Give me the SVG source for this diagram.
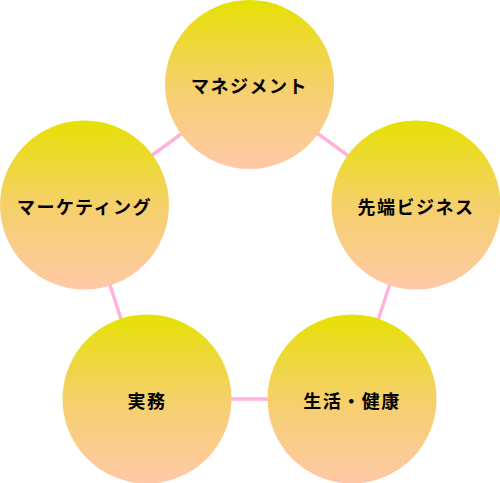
<svg xmlns="http://www.w3.org/2000/svg" width="500" height="483" viewBox="0 0 500 483">
<defs>
<linearGradient id="g" x1="0" y1="0" x2="0" y2="1">
<stop offset="0" stop-color="#e6e104"/>
<stop offset="0.5" stop-color="#f5d06a"/>
<stop offset="1" stop-color="#ffc9a8"/>
</linearGradient>
<style>
.c{fill:url(#g);}
.t{font-family:"Noto Sans CJK JP","Noto Sans",sans-serif;font-weight:bold;font-size:18px;fill:#000;text-anchor:middle;letter-spacing:1.5px;}
.l{stroke:#ffb3db;stroke-width:3.5;fill:none;}
</style>
</defs>
<g id="connectors">
<line class="l" x1="249.5" y1="84" x2="416" y2="205"/>
<line class="l" x1="416" y1="205" x2="352" y2="399"/>
<line class="l" x1="352" y1="399" x2="147" y2="399"/>
<line class="l" x1="147" y1="399" x2="84" y2="205"/>
<line class="l" x1="84" y1="205" x2="249.5" y2="84"/>
</g>
<g id="n1"><circle class="c" cx="249.5" cy="84.5" r="84.5"/><text class="t" x="249.5" y="93">マネジメント</text></g>
<g id="n2"><circle class="c" cx="416" cy="205" r="84.5"/><text class="t" x="416" y="214">先端ビジネス</text></g>
<g id="n3"><circle class="c" cx="352" cy="399" r="84.5"/><text class="t" x="352" y="408">生活・健康</text></g>
<g id="n4"><circle class="c" cx="147" cy="399" r="84.5"/><text class="t" x="147" y="408">実務</text></g>
<g id="n5"><circle class="c" cx="84.5" cy="205" r="84.5"/><text class="t" x="84.5" y="214">マーケティング</text></g>
</svg>
